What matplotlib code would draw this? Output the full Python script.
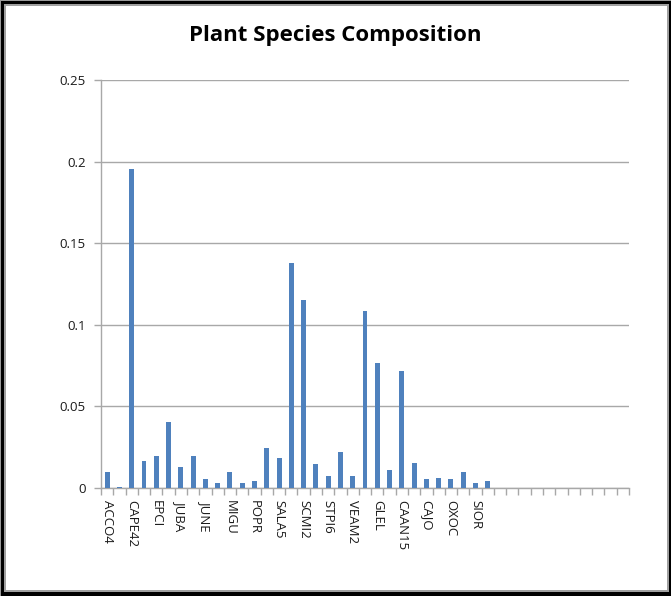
import numpy as np
import matplotlib.pyplot as plt
from matplotlib.patches import Rectangle

# species codes (every other one gets a printed label) and composition values
species = ['ACCO4', '', 'CAPE42', '', 'EPCI', '', 'JUBA', '', 'JUNE', '',
           'MIGU', '', 'POPR', '', 'SALA5', '', 'SCMI2', '', 'STPI6', '',
           'VEAM2', '', 'GLEL', '', 'CAAN15', '', 'CAJO', '', 'OXOC', '',
           'SIOR', '']
composition = [0.0100, 0.0008, 0.1955, 0.0163, 0.0196, 0.0402, 0.0129, 0.0196,
               0.0057, 0.0032, 0.0100, 0.0032, 0.0045, 0.0243, 0.0184, 0.1380,
               0.1152, 0.0147, 0.0074, 0.0218, 0.0074, 0.1082, 0.0768, 0.0108,
               0.0719, 0.0151, 0.0057, 0.0061, 0.0057, 0.0100, 0.0028, 0.0043]
n_slots = 43  # empty categories continue the axis after the last species
yticks = [0, 0.05, 0.1, 0.15, 0.2, 0.25]
ytick_labels = ['0', '0.05', '0.1', '0.15', '0.2', '0.25']

W, H = 671, 596
fig = plt.figure(figsize=(W / 100, H / 100), dpi=100, facecolor='black')


def px_rect(x0, y0, x1, y1, color):
    fig.patches.append(Rectangle((x0 / W, 1 - y1 / H), (x1 - x0) / W, (y1 - y0) / H,
                                 transform=fig.transFigure, facecolor=color,
                                 edgecolor='none', zorder=-5))


# chart frame: black border, thin grey inner line, white plot area
px_rect(0, 0, W, 1, '#9a9a9a')
px_rect(0, 0, 1, H, '#9a9a9a')
px_rect(4, 4, 669, 592, '#a0a0a0')
px_rect(6, 6, 667, 590, 'white')

ax = fig.add_axes([101 / W, 1 - 488 / H, (629 - 101) / W, (488 - 80) / H])
ax.set_facecolor('none')

x = np.arange(len(composition))
ax.bar(x, composition, width=0.4, color='#4F81BD', zorder=3)

ax.set_xlim(-0.5, n_slots - 0.5)
ax.set_ylim(0, 0.25)

grid_grey = '#a8a8a8'
ax.set_yticks(yticks)
ax.set_yticklabels(ytick_labels)
ax.yaxis.grid(True, color=grid_grey, linewidth=1)
ax.set_axisbelow(True)

# labels at category centres, tick marks on category boundaries
label_pos = [i for i, s in enumerate(species) if s]
ax.set_xticks(label_pos)
ax.set_xticklabels([species[i] for i in label_pos], rotation=-90,
                   va='top', ha='center')
ax.set_xticks(np.arange(-0.5, n_slots), minor=True)
ax.tick_params(axis='x', which='major', length=0, pad=9)
ax.tick_params(axis='x', which='minor', length=5, color=grid_grey, width=1)
ax.tick_params(axis='y', length=5, color=grid_grey, width=1, pad=6)
ax.tick_params(labelsize=9.5, labelcolor='#1a1a1a')
for lbl in ax.get_xticklabels() + ax.get_yticklabels():
    lbl.set_family('Open Sans')

for side in ('top', 'right'):
    ax.spines[side].set_visible(False)
for side in ('left', 'bottom'):
    ax.spines[side].set_color(grid_grey)
    ax.spines[side].set_linewidth(1)

fig.text(0.5, 1 - 35 / H, 'Plant Species Composition', ha='center', va='center',
         fontsize=16, fontweight='bold', family='Open Sans', color='black')

fig.savefig('out.png', dpi=100, facecolor=fig.get_facecolor())
